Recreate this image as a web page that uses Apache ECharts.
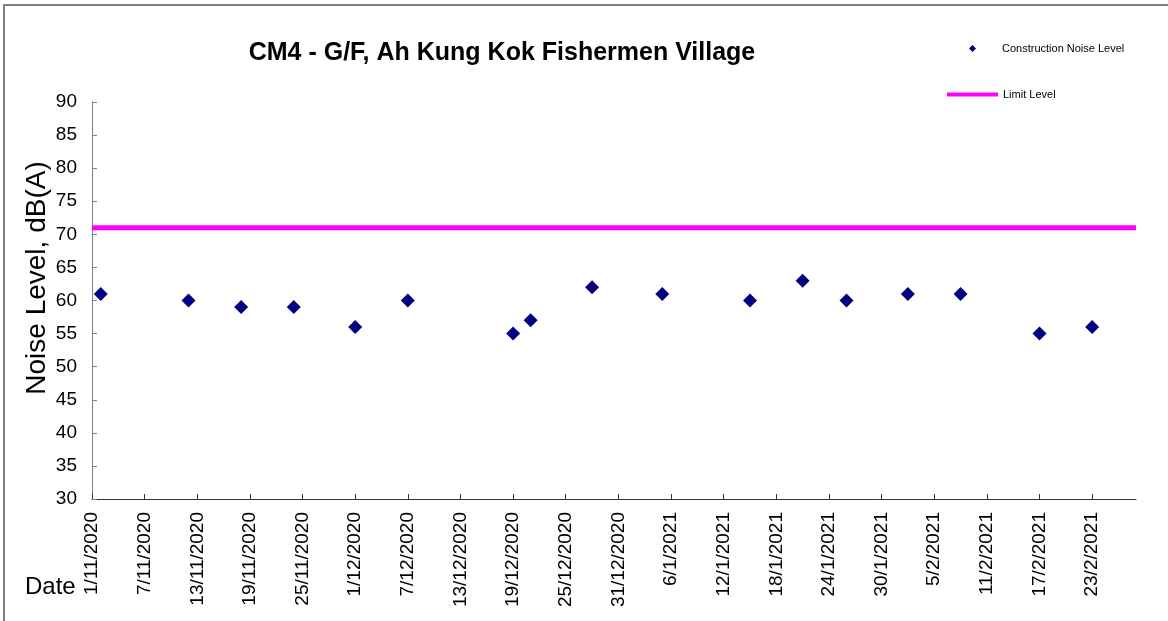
<!DOCTYPE html>
<html>
<head>
<meta charset="utf-8">
<script src="https://cdn.jsdelivr.net/npm/echarts@6/dist/echarts.min.js"></script>
<style>
    html, body {margin: 0; padding: 0; background: #fff;}
    #chart {width: 1168px; height: 621px;}
</style>
</head>
<body>
<div id="chart"></div>
<script>
// 监测日期 与 噪声值
let dates = ['2/11/2020', '12/11/2020', '18/11/2020', '24/11/2020', '1/12/2020', '7/12/2020',
    '19/12/2020', '21/12/2020', '28/12/2020', '5/1/2021', '15/1/2021', '21/1/2021',
    '26/1/2021', '2/2/2021', '8/2/2021', '17/2/2021', '23/2/2021'];
let noise = [61, 60, 59, 59, 56, 60, 55, 57, 62, 61, 60, 63, 60, 61, 61, 55, 56];

// 限值
let limitLevel = 71;

// x轴刻度
let tickLabels = ['1/11/2020', '7/11/2020', '13/11/2020', '19/11/2020', '25/11/2020', '1/12/2020',
    '7/12/2020', '13/12/2020', '19/12/2020', '25/12/2020', '31/12/2020', '6/1/2021', '12/1/2021',
    '18/1/2021', '24/1/2021', '30/1/2021', '5/2/2021', '11/2/2021', '17/2/2021', '23/2/2021'];
let axisStart = '1/11/2020';
let axisEnd = '28/2/2021';

// y轴刻度
let yTicks = [30, 35, 40, 45, 50, 55, 60, 65, 70, 75, 80, 85, 90];

// 日期字符串 -> 距起始日天数
const parseDate = s => {
    let p = s.split('/');
    return Date.UTC(+p[2], +p[1] - 1, +p[0]);
};
const dayOf = s => Math.round((parseDate(s) - parseDate(axisStart)) / 86400000);
const labelOf = d => {
    let t = new Date(parseDate(axisStart) + d * 86400000);
    return t.getUTCDate() + '/' + (t.getUTCMonth() + 1) + '/' + t.getUTCFullYear();
};

let xMin = 0, xMax = dayOf(axisEnd);
let tickDays = tickLabels.map(dayOf);
let points = dates.map((d, i) => [dayOf(d), noise[i]]);

let font = 'Arial, "Liberation Sans", sans-serif';

let chart = echarts.init(document.getElementById('chart'));
let option = {
    animation: false,
    backgroundColor: '#fff',
    title: {
        text: 'CM4 - G/F, Ah Kung Kok Fishermen Village',
        left: 497,
        top: 36,
        textAlign: 'center',
        textStyle: {fontFamily: font, fontSize: 25, fontWeight: 'bold', color: '#000'}
    },
    legend: [
        {
            data: [{name: 'Construction Noise Level', icon: 'diamond'}],
            left: 969, top: 43, padding: 0,
            itemWidth: 7, itemHeight: 7,
            textStyle: {fontFamily: font, fontSize: 11, color: '#000', padding: [0, 0, 0, 21]}
        },
        {
            data: [{name: 'Limit Level', icon: 'rect'}],
            left: 947, top: 89, padding: 0,
            itemWidth: 51, itemHeight: 4,
            textStyle: {fontFamily: font, fontSize: 11, color: '#000'}
        }
    ],
    grid: {left: 92, right: 32, top: 102, bottom: 122},
    xAxis: {
        type: 'value',
        min: xMin,
        max: xMax,
        splitLine: {show: false},
        axisLine: {lineStyle: {color: '#333', width: 1}},
        axisTick: {inside: true, length: 5, customValues: tickDays, lineStyle: {color: '#333'}},
        axisLabel: {
            customValues: tickDays,
            rotate: 90,
            margin: 13,
            formatter: v => labelOf(v),
            fontFamily: font, fontSize: 19, color: '#000'
        }
    },
    yAxis: {
        type: 'value',
        min: yTicks[0],
        max: yTicks[yTicks.length - 1],
        interval: 5,
        splitLine: {show: false},
        axisLine: {show: true, lineStyle: {color: '#808080', width: 1}},
        axisTick: {show: true, inside: true, length: 5, lineStyle: {color: '#808080'}},
        axisLabel: {fontFamily: font, fontSize: 19, color: '#000', margin: 15}
    },
    graphic: [
        {
            type: 'rect',
            shape: {x: 4, y: 5, width: 1300, height: 800},
            style: {fill: 'none', stroke: '#808080', lineWidth: 2},
            silent: true
        },
        {
            type: 'text',
            x: 37, y: 278,
            rotation: Math.PI / 2,
            style: {
                text: 'Noise Level, dB(A)', fontFamily: font, fontSize: 28, fill: '#000',
                textAlign: 'center', textVerticalAlign: 'middle'
            }
        },
        {
            type: 'text',
            left: 25, top: 575,
            style: {text: 'Date', fontFamily: font, fontSize: 24, fill: '#000'}
        }
    ],
    series: [
        {
            name: 'Construction Noise Level',
            type: 'scatter',
            symbol: 'diamond',
            symbolSize: 14,
            itemStyle: {color: '#000080', opacity: 1},
            data: points,
            z: 3
        },
        {
            name: 'Limit Level',
            type: 'line',
            symbol: 'none',
            lineStyle: {color: '#FF00FF', width: 5},
            itemStyle: {color: '#FF00FF'},
            data: [[xMin, limitLevel], [xMax, limitLevel]],
            z: 2
        }
    ]
};
chart.setOption(option);
</script>
</body>
</html>
